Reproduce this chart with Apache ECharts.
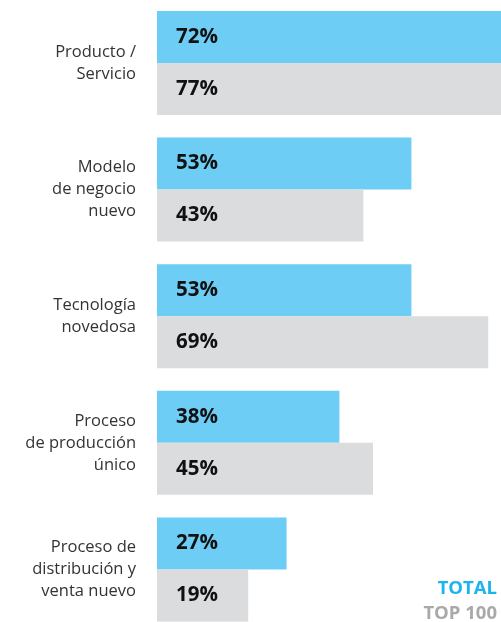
<!DOCTYPE html>
<html>
<head>
<meta charset="utf-8">
<script src="https://cdn.jsdelivr.net/npm/echarts@6/dist/echarts.min.js"></script>
<style>html,body{margin:0;padding:0;background:#fff}#c{width:501px;height:622px}</style>
</head>
<body>
<div id="c"></div>
<script>
const categories = ["Producto /\nServicio", "Modelo\nde negocio\nnuevo", "Tecnología\nnovedosa", "Proceso\nde producción\núnico", "Proceso de\ndistribución y\nventa nuevo"];
const totalValues = [72, 53, 53, 38, 27];
const top100Values = [77, 43, 69, 45, 19];
const seriesNames = ["TOTAL", "TOP 100"];

const chart = echarts.init(document.getElementById('c'), null, {renderer: 'canvas'});
const labelStyle = {
  show: true, position: 'insideLeft', distance: 19,
  formatter: p => p.value + '%',
  color: '#111', fontWeight: 'bold', fontSize: 20.5, fontFamily: 'Open Sans'
};
chart.setOption({
  animation: false,
  grid: {left: 157, right: -136, top: -0.3, bottom: -10.7, containLabel: false, outerBoundsMode: 'none'},
  xAxis: {type: 'value', min: 0, max: 100, show: false},
  yAxis: {
    type: 'category', data: categories, inverse: true,
    axisLine: {show: false}, axisTick: {show: false}, splitLine: {show: false},
    axisLabel: {margin: 21, color: '#333', fontSize: 16.5, lineHeight: 22, fontFamily: 'Open Sans', align: 'right'}
  },
  legend: {
    orient: 'vertical', right: -1, bottom: -1, itemGap: 5.5, itemWidth: 0, itemHeight: 0, icon: 'none',
    align: 'right', padding: 0,
    textStyle: {fontWeight: 'bold', fontSize: 18.5, fontFamily: 'Open Sans', padding: 0},
    data: [
      {name: seriesNames[0], textStyle: {color: '#1ab4ee'}},
      {name: seriesNames[1], textStyle: {color: '#a9a9a9'}}
    ]
  },
  series: [
    {name: seriesNames[0], type: 'bar', data: totalValues, barWidth: 52, barGap: 0,
     itemStyle: {color: '#6dcdf5'}, label: labelStyle},
    {name: seriesNames[1], type: 'bar', data: top100Values, barWidth: 52, barGap: 0,
     itemStyle: {color: '#dbdcde'}, label: labelStyle}
  ]
});
</script>
</body>
</html>
